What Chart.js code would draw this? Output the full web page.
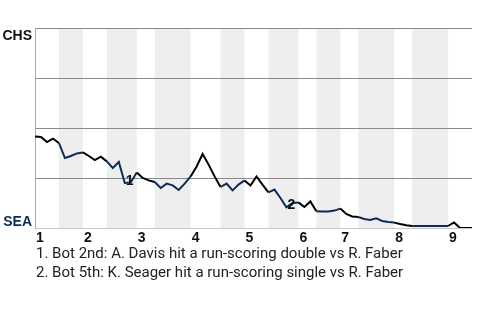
<!DOCTYPE html>
<html>
<head>
<meta charset="utf-8">
<script src="https://cdn.jsdelivr.net/npm/chart.js@4/dist/chart.umd.min.js"></script>
<style>
  body { margin: 0; background: #fff; }
  #wrap { position: relative; width: 480px; height: 320px; overflow: hidden; }
  #wpChart { position: absolute; left: 0; top: 0; }
  .team { position: absolute; font: bold 14px "Liberation Sans", Arial, sans-serif; right: 448px; text-align: right; }
  #teamAway { top: 27px; color: #111; }
  #teamHome { top: 213px; color: #0c2c56; }
  #notes { position: absolute; left: 36px; top: 244px; font: 15px Roboto, sans-serif; line-height: 19px; color: #222; white-space: nowrap; }
</style>
</head>
<body>
<div id="wrap">
  <canvas id="wpChart" width="480" height="320"></canvas>
  <div class="team" id="teamAway"></div>
  <div class="team" id="teamHome"></div>
  <div id="notes"></div>
</div>
<script>
const awayTeam = 'CHS';
const homeTeam = 'SEA';

// away win probability after each plate appearance
const winProb = [
    0.457, 0.455, 0.43, 0.447, 0.425, 0.35, 0.36, 0.373, 0.378, 0.36,
    0.34, 0.357, 0.333, 0.30, 0.33, 0.225, 0.228, 0.278, 0.25, 0.238,
    0.23, 0.20, 0.222, 0.213, 0.19, 0.222, 0.258, 0.308, 0.37, 0.317,
    0.258, 0.205, 0.222, 0.188, 0.217, 0.238, 0.212, 0.258, 0.217, 0.178,
    0.192, 0.15, 0.103, 0.125, 0.128, 0.105, 0.133, 0.084, 0.083, 0.083,
    0.087, 0.097, 0.07, 0.058, 0.055, 0.045, 0.04, 0.048, 0.035, 0.03,
    0.027, 0.02, 0.014, 0.01, 0.01, 0.01, 0.01, 0.01, 0.01, 0.01,
    0.028, 0, 0, 0
];

// plate appearance index where each half inning starts (last = end of game)
const halfInningBreaks = [0, 4, 8, 12, 17, 20, 26, 31, 35, 39, 44, 47, 51, 54, 60, 63, 69, 73];
const inningLabels = ['1', '2', '3', '4', '5', '6', '7', '8', '9'];

const eventIndex = [15, 42];
const eventLabels = ['1', '2'];
const eventNotes = [
    '1. Bot 2nd: A. Davis hit a run-scoring double vs R. Faber',
    '2. Bot 5th: K. Seager hit a run-scoring single vs R. Faber'
];

document.getElementById('teamAway').innerText = awayTeam;
document.getElementById('teamHome').innerText = homeTeam;
document.getElementById('notes').innerHTML = eventNotes.map(n => `<div>${n}</div>`).join('');

function halfOf(index) {
    for (let k = 0; k < halfInningBreaks.length - 1; k++) {
        if (index >= halfInningBreaks[k] && index < halfInningBreaks[k + 1]) return k;
    }
    return halfInningBreaks.length - 2;
}

const bandsPlugin = {
    id: 'bands',
    beforeDraw(chart) {
        const { ctx, chartArea, scales } = chart;
        ctx.save();
        ctx.fillStyle = '#eeeeee';
        for (let k = 1; k < halfInningBreaks.length - 1; k += 2) {
            const x0 = scales.x.getPixelForValue(halfInningBreaks[k]);
            const x1 = scales.x.getPixelForValue(halfInningBreaks[k + 1]);
            ctx.fillRect(x0, chartArea.top, x1 - x0, chartArea.bottom - chartArea.top);
        }
        ctx.restore();
    }
};

const labelsPlugin = {
    id: 'labels',
    afterDraw(chart) {
        const { ctx, chartArea, scales } = chart;
        ctx.save();
        ctx.fillStyle = '#111';
        ctx.font = 'bold 14px "Liberation Sans", Arial, sans-serif';
        ctx.textAlign = 'left';
        ctx.textBaseline = 'top';
        inningLabels.forEach((lab, n) => {
            const x = scales.x.getPixelForValue(halfInningBreaks[n * 2]);
            ctx.fillText(lab, x + 1, chartArea.bottom + 3);
        });
        ctx.textBaseline = 'middle';
        eventIndex.forEach((idx, n) => {
            const x = scales.x.getPixelForValue(idx);
            const y = scales.y.getPixelForValue(winProb[idx]);
            ctx.fillText(eventLabels[n], x + 1, y - 2);
        });
        ctx.restore();
    }
};

const ctx = document.getElementById('wpChart').getContext('2d');
const wpChart = new Chart(ctx, {
    type: 'line',
    data: {
        labels: winProb.map((v, i) => i),
        datasets: [{
            data: winProb.map((v, i) => ({ x: i, y: v })),
            borderWidth: 2,
            pointRadius: 0,
            tension: 0,
            borderColor: '#000',
            segment: {
                borderColor: c => (halfOf(c.p0DataIndex) % 2 === 1 ? '#0c2c56' : '#000')
            }
        }]
    },
    options: {
        responsive: false,
        animation: false,
        devicePixelRatio: 1,
        layout: { padding: { left: 35, right: 8, top: 28, bottom: 92 } },
        plugins: { legend: { display: false }, tooltip: { enabled: false } },
        scales: {
            x: {
                type: 'linear',
                display: false,
                min: 0,
                max: winProb.length - 1
            },
            y: {
                min: 0,
                max: 1,
                ticks: { display: false, stepSize: 0.25 },
                grid: {
                    drawTicks: false,
                    color: c => (c.tick.value === 0 ? '#c8c8c8' : '#8a8a8a'),
                    lineWidth: 1
                },
                border: { display: true, color: '#aaaaaa' }
            }
        }
    },
    plugins: [bandsPlugin, labelsPlugin]
});
</script>
</body>
</html>
